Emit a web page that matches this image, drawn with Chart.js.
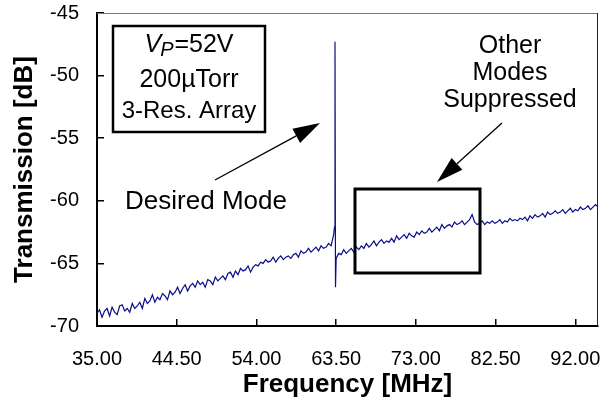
<!DOCTYPE html>
<html>
<head>
<meta charset="utf-8">
<script src="https://cdn.jsdelivr.net/npm/chart.js@4/dist/chart.umd.min.js"></script>
<style>
  body { margin: 0; background: #fff; }
  #wrap { width: 613px; height: 405px; }
</style>
</head>
<body>
<div id="wrap"><canvas id="chart" width="613" height="405"></canvas></div>
<script>
// measured trace, frequency in MHz
const freqMHz = [
  35.0, 35.3, 35.6, 35.9, 36.2, 36.5, 36.8, 37.1, 37.4, 37.7, 38.0, 38.3, 38.6, 38.9, 39.2, 39.5, 39.8,
  40.1, 40.4, 40.7, 41.0, 41.3, 41.6, 41.9, 42.2, 42.5, 42.8, 43.1, 43.4, 43.7, 44.0, 44.3, 44.6, 44.9,
  45.2, 45.5, 45.8, 46.1, 46.4, 46.7, 47.0, 47.3, 47.6, 47.9, 48.2, 48.5, 48.8, 49.1, 49.4, 49.7,
  50.0, 50.3, 50.6, 50.9, 51.2, 51.5, 51.8, 52.1, 52.4, 52.7, 53.0, 53.3, 53.6, 53.9,
  54.2, 54.5, 54.8, 55.1, 55.4, 55.7, 56.0, 56.3, 56.6, 56.9, 57.2, 57.5, 57.8,
  58.1, 58.4, 58.7, 59.0, 59.3, 59.6, 59.9, 60.2, 60.5, 60.8, 61.1, 61.4, 61.7, 62.0, 62.3, 62.6, 62.9, 63.2,
  63.3, 63.36, 63.42,
  63.5, 63.8, 64.1, 64.4, 64.7, 65.0, 65.3, 65.6, 65.9,
  66.2, 66.5, 66.8, 67.1, 67.4, 67.7, 68.0, 68.3, 68.6, 68.9, 69.2, 69.5, 69.8,
  70.1, 70.4, 70.7, 71.0, 71.3, 71.6, 71.9, 72.2, 72.5, 72.8, 73.1, 73.4, 73.7, 74.0, 74.3, 74.6, 74.9,
  75.2, 75.5, 75.8, 76.1, 76.4, 76.7, 77.0, 77.3, 77.6, 77.9, 78.2, 78.5, 78.8, 79.1, 79.4, 79.7,
  80.0, 80.3, 80.6, 80.9, 81.2, 81.5, 81.8, 82.1, 82.4, 82.7, 83.0, 83.3, 83.6, 83.9, 84.2, 84.5, 84.8,
  85.1, 85.4, 85.7, 86.0, 86.3, 86.6, 86.9, 87.2, 87.5, 87.8, 88.1, 88.4, 88.7, 89.0, 89.3, 89.6, 89.9,
  90.2, 90.5, 90.8, 91.1, 91.4, 91.7, 92.0, 92.3, 92.6, 92.9, 93.2, 93.5, 93.8, 94.1, 94.4, 94.7
];

// transmission in dB
const transDb = [
  -69.0, -68.7, -69.3, -68.8, -68.6, -69.2, -68.5, -68.9, -69.1, -68.4, -68.3, -68.8, -68.6, -68.9, -68.2, -68.6, -68.4,
  -68.1, -68.6, -67.8, -68.2, -68.0, -67.5, -68.1, -67.7, -67.9, -67.4, -67.6, -67.9, -67.2, -67.5, -67.3, -66.9, -67.4,
  -67.0, -66.7, -67.2, -66.8, -66.6, -66.9, -66.4, -66.7, -66.5, -66.9, -66.3, -66.4, -66.7, -66.1, -66.4, -66.2,
  -66.0, -66.3, -65.8, -65.7, -66.1, -65.6, -65.9, -65.4, -65.6, -65.5, -65.2, -65.7, -65.3, -65.1,
  -65.2, -64.9, -65.0, -64.7, -64.9, -64.8, -64.5, -64.9, -64.6, -64.4, -64.7, -64.5, -64.4,
  -64.6, -64.3, -64.2, -64.5, -64.0, -64.2, -64.1, -63.8, -64.1, -63.9, -63.7, -64.0, -63.6, -63.8, -63.7, -63.4, -63.6, -62.7,
  -62.1, -47.3, -66.9,
  -64.6, -64.2, -64.3, -63.9, -64.2, -64.0, -63.8, -64.1, -63.7,
  -63.9, -63.6, -63.8, -63.4, -63.7, -63.5, -63.2, -63.6, -63.3, -63.1, -63.4, -63.2, -63.3,
  -63.0, -63.3, -62.8, -63.1, -62.9, -62.7, -63.0, -62.6, -62.8, -62.9, -62.5, -62.7, -62.4, -62.6, -62.5, -62.2, -62.5,
  -62.3, -62.1, -62.4, -61.9, -62.2, -62.0, -61.9, -62.1, -61.7, -61.9, -61.8, -61.6, -61.9, -61.7, -61.5, -61.1,
  -61.7, -61.9, -61.8, -61.6, -61.9, -61.7, -61.8, -61.6, -61.8, -61.7, -61.5, -61.8, -61.6, -61.7, -61.4, -61.6, -61.5,
  -61.6, -61.4, -61.5, -61.3, -61.6, -61.2, -61.4, -61.1, -61.3, -61.2, -61.0, -61.3, -60.9, -61.1, -61.0, -60.8, -61.0,
  -60.9, -60.7, -61.0, -60.8, -60.6, -60.9, -60.7, -60.8, -60.5, -60.7, -60.6, -60.4, -60.7, -60.5, -60.3, -60.5
];

const xTickValues = [35, 44.5, 54, 63.5, 73, 82.5, 92];
const yTickValues = [-70, -65, -60, -55, -50, -45];

const FONT = "'Liberation Sans', Arial, Helvetica, sans-serif";
Chart.defaults.font.family = FONT;
Chart.defaults.color = "#000";

// top/right frame, arrows, text box and the highlight rectangle
const annotations = {
  id: "annotations",
  afterDraw(chart) {
    const ctx = chart.ctx;
    const a = chart.chartArea;
    ctx.save();

    ctx.strokeStyle = "#777";
    ctx.lineWidth = 1;
    ctx.beginPath();
    ctx.moveTo(a.left, a.top + 0.5);
    ctx.lineTo(a.right, a.top + 0.5);
    ctx.stroke();
    ctx.strokeStyle = "#222";
    ctx.beginPath();
    ctx.moveTo(a.right - 0.5, a.top);
    ctx.lineTo(a.right - 0.5, a.bottom);
    ctx.stroke();

    ctx.fillStyle = "#000";
    ctx.strokeStyle = "#000";

    // parameter box
    ctx.lineWidth = 2.5;
    ctx.strokeRect(113, 26, 152, 106);

    ctx.textBaseline = "middle";
    ctx.textAlign = "left";
    const big = "25px " + FONT;
    const itBig = "italic 25px " + FONT;
    const itSub = "italic 20px " + FONT;
    ctx.font = itBig; const wV = ctx.measureText("V").width;
    ctx.font = itSub; const wP = ctx.measureText("P").width;
    ctx.font = big; const wRest = ctx.measureText("=52V").width;
    let x = 189 - (wV + wP + wRest) / 2;
    ctx.font = itBig; ctx.fillText("V", x, 45); x += wV;
    ctx.font = itSub; ctx.fillText("P", x - 1, 50); x += wP;
    ctx.font = big; ctx.fillText("=52V", x, 45);

    ctx.textAlign = "center";
    ctx.fillText("200\u00b5Torr", 189, 80);
    ctx.font = "24px " + FONT;
    ctx.fillText("3-Res. Array", 189, 111);

    ctx.font = "26px " + FONT;
    ctx.fillText("Desired Mode", 206, 202);

    ctx.font = "25px " + FONT;
    ctx.fillText("Other", 510, 46);
    ctx.fillText("Modes", 510, 73);
    ctx.fillText("Suppressed", 510, 100);

    const arrow = (x1, y1, x2, y2) => {
      const ang = Math.atan2(y2 - y1, x2 - x1);
      const len = 27, half = 8;
      const bx = x2 - len * Math.cos(ang), by = y2 - len * Math.sin(ang);
      ctx.lineWidth = 1.3;
      ctx.beginPath();
      ctx.moveTo(x1, y1);
      ctx.lineTo(bx, by);
      ctx.stroke();
      ctx.beginPath();
      ctx.moveTo(x2, y2);
      ctx.lineTo(bx + half * Math.sin(ang), by - half * Math.cos(ang));
      ctx.lineTo(bx - half * Math.sin(ang), by + half * Math.cos(ang));
      ctx.closePath();
      ctx.fill();
    };
    arrow(215, 180, 320, 123);
    arrow(502, 123, 437, 182);

    // suppressed-modes region
    ctx.lineWidth = 3;
    ctx.strokeRect(355, 189, 125, 84);

    ctx.restore();
  },
};

const ctx = document.getElementById("chart");
new Chart(ctx, {
  type: "line",
  data: {
    datasets: [
      {
        label: "Transmission",
        data: freqMHz.map((f, i) => ({ x: f, y: transDb[i] })),
        borderColor: "#0c0c88",
        borderWidth: 1.2,
        pointRadius: 0,
        tension: 0,
        fill: false,
      },
    ],
  },
  options: {
    responsive: false,
    animation: false,
    layout: { padding: { top: 13, right: 15, left: 0, bottom: 0 } },
    plugins: { legend: { display: false }, tooltip: { enabled: false } },
    scales: {
      x: {
        type: "linear",
        min: 35,
        max: 94.7,
        afterBuildTicks: (s) => { s.ticks = xTickValues.map((v) => ({ value: v })); },
        afterFit: (s) => { s.height = 79; s.paddingLeft = 0; s.paddingRight = 0; },
        ticks: {
          font: { size: 20 },
          color: "#000",
          padding: 28,
          maxRotation: 0,
          autoSkip: false,
          callback: (v) => Number(v).toFixed(2),
        },
        grid: { drawOnChartArea: false, drawTicks: true, tickLength: -7, color: "#000", lineWidth: 1.5 },
        border: { display: true, color: "#000", width: 2 },
        title: {
          display: true,
          text: "Frequency [MHz]",
          font: { size: 26, weight: "bold" },
          color: "#000",
          padding: { top: 0, bottom: 5 },
        },
      },
      y: {
        min: -70,
        max: -45,
        afterBuildTicks: (s) => { s.ticks = yTickValues.map((v) => ({ value: v })); },
        afterFit: (s) => { s.width = 97; s.paddingTop = 0; s.paddingBottom = 0; },
        ticks: {
          font: { size: 20 },
          color: "#000",
          padding: 25,
          callback: (v) => String(v),
        },
        grid: { drawOnChartArea: false, drawTicks: true, tickLength: -7, color: "#000", lineWidth: 1.5 },
        border: { display: true, color: "#000", width: 2 },
        title: {
          display: true,
          text: "Transmission [dB]",
          font: { size: 26, weight: "bold" },
          color: "#000",
          padding: { top: 9, bottom: 0 },
        },
      },
    },
  },
  plugins: [annotations],
});
</script>
</body>
</html>
